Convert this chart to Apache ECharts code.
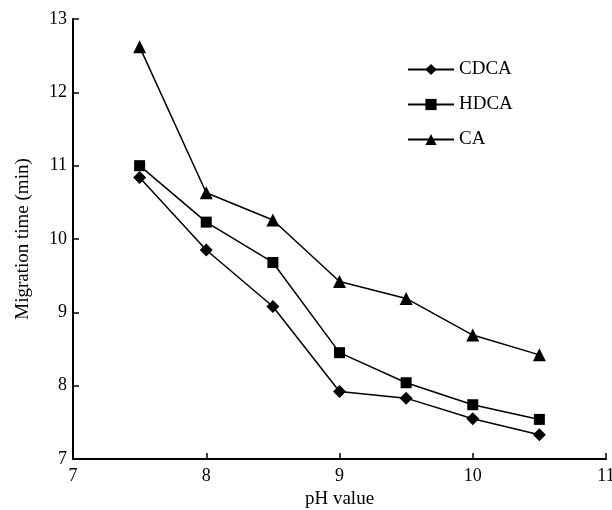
<!DOCTYPE html>
<html>
<head>
<meta charset="utf-8">
<script src="https://cdn.jsdelivr.net/npm/echarts@6/dist/echarts.min.js"></script>
<style>
  html, body { margin: 0; padding: 0; background: #fff; }
  #main { width: 612px; height: 510px; }
</style>
</head>
<body>
<div id="main"></div>
<script>
// pH values on the x axis
var phValues = [7.5, 8.0, 8.5, 9.0, 9.5, 10.0, 10.5];
// migration times (min)
var cdca = [10.84, 9.85, 9.08, 7.92, 7.83, 7.55, 7.33];
var hdca = [11.0, 10.23, 9.68, 8.45, 8.04, 7.74, 7.54];
var ca = [12.62, 10.63, 10.26, 9.42, 9.19, 8.69, 8.42];
var seriesNames = ['CDCA', 'HDCA', 'CA'];

function pairs(ys) {
    var out = [];
    for (var i = 0; i < phValues.length; i++) {
        out.push([phValues[i], ys[i]]);
    }
    return out;
}

var font = 'Liberation Serif';
var myChart = echarts.init(document.getElementById('main'));

function lineSeries(name, ys, symbol, size) {
    return {
        name: name,
        type: 'line',
        data: pairs(ys),
        symbol: symbol,
        symbolSize: size,
        showAllSymbol: true,
        itemStyle: { color: '#000' },
        lineStyle: { color: '#000', width: 1.5 },
        animation: false
    };
}

var option = {
    backgroundColor: '#fff',
    textStyle: { fontFamily: font },
    // outerBoundsMode none so the plot box stays where I put it
    grid: { left: 73, right: 6, top: 19, bottom: 51, outerBoundsMode: 'none' },
    legend: {
        orient: 'vertical',
        left: 402,
        top: 55,
        itemWidth: 46,
        itemHeight: 14,
        itemGap: 16,
        data: seriesNames,
        textStyle: { fontFamily: font, fontSize: 19, color: '#000' }
    },
    xAxis: {
        type: 'value',
        min: 7,
        max: 11,
        interval: 1,
        name: 'pH value',
        nameLocation: 'middle',
        nameGap: 30,
        nameTextStyle: { fontFamily: font, fontSize: 19, color: '#000' },
        axisLine: { lineStyle: { color: '#000', width: 2 } },
        axisTick: { inside: true, length: 6, lineStyle: { color: '#000', width: 1.5 } },
        axisLabel: { fontFamily: font, fontSize: 18, color: '#000', margin: 8 },
        splitLine: { show: false }
    },
    yAxis: {
        type: 'value',
        min: 7,
        max: 13,
        interval: 1,
        name: 'Migration time (min)',
        nameLocation: 'middle',
        nameGap: 40,
        nameTextStyle: { fontFamily: font, fontSize: 19, color: '#000' },
        axisLine: { show: true, lineStyle: { color: '#000', width: 2 } },
        axisTick: { show: true, inside: true, length: 6, lineStyle: { color: '#000', width: 1.5 } },
        axisLabel: { fontFamily: font, fontSize: 18, color: '#000', margin: 6 },
        splitLine: { show: false }
    },
    series: [
        lineSeries('CDCA', cdca, 'diamond', 13),
        lineSeries('HDCA', hdca, 'rect', 11),
        lineSeries('CA', ca, 'triangle', 13)
    ]
};

myChart.setOption(option);
</script>
</body>
</html>
